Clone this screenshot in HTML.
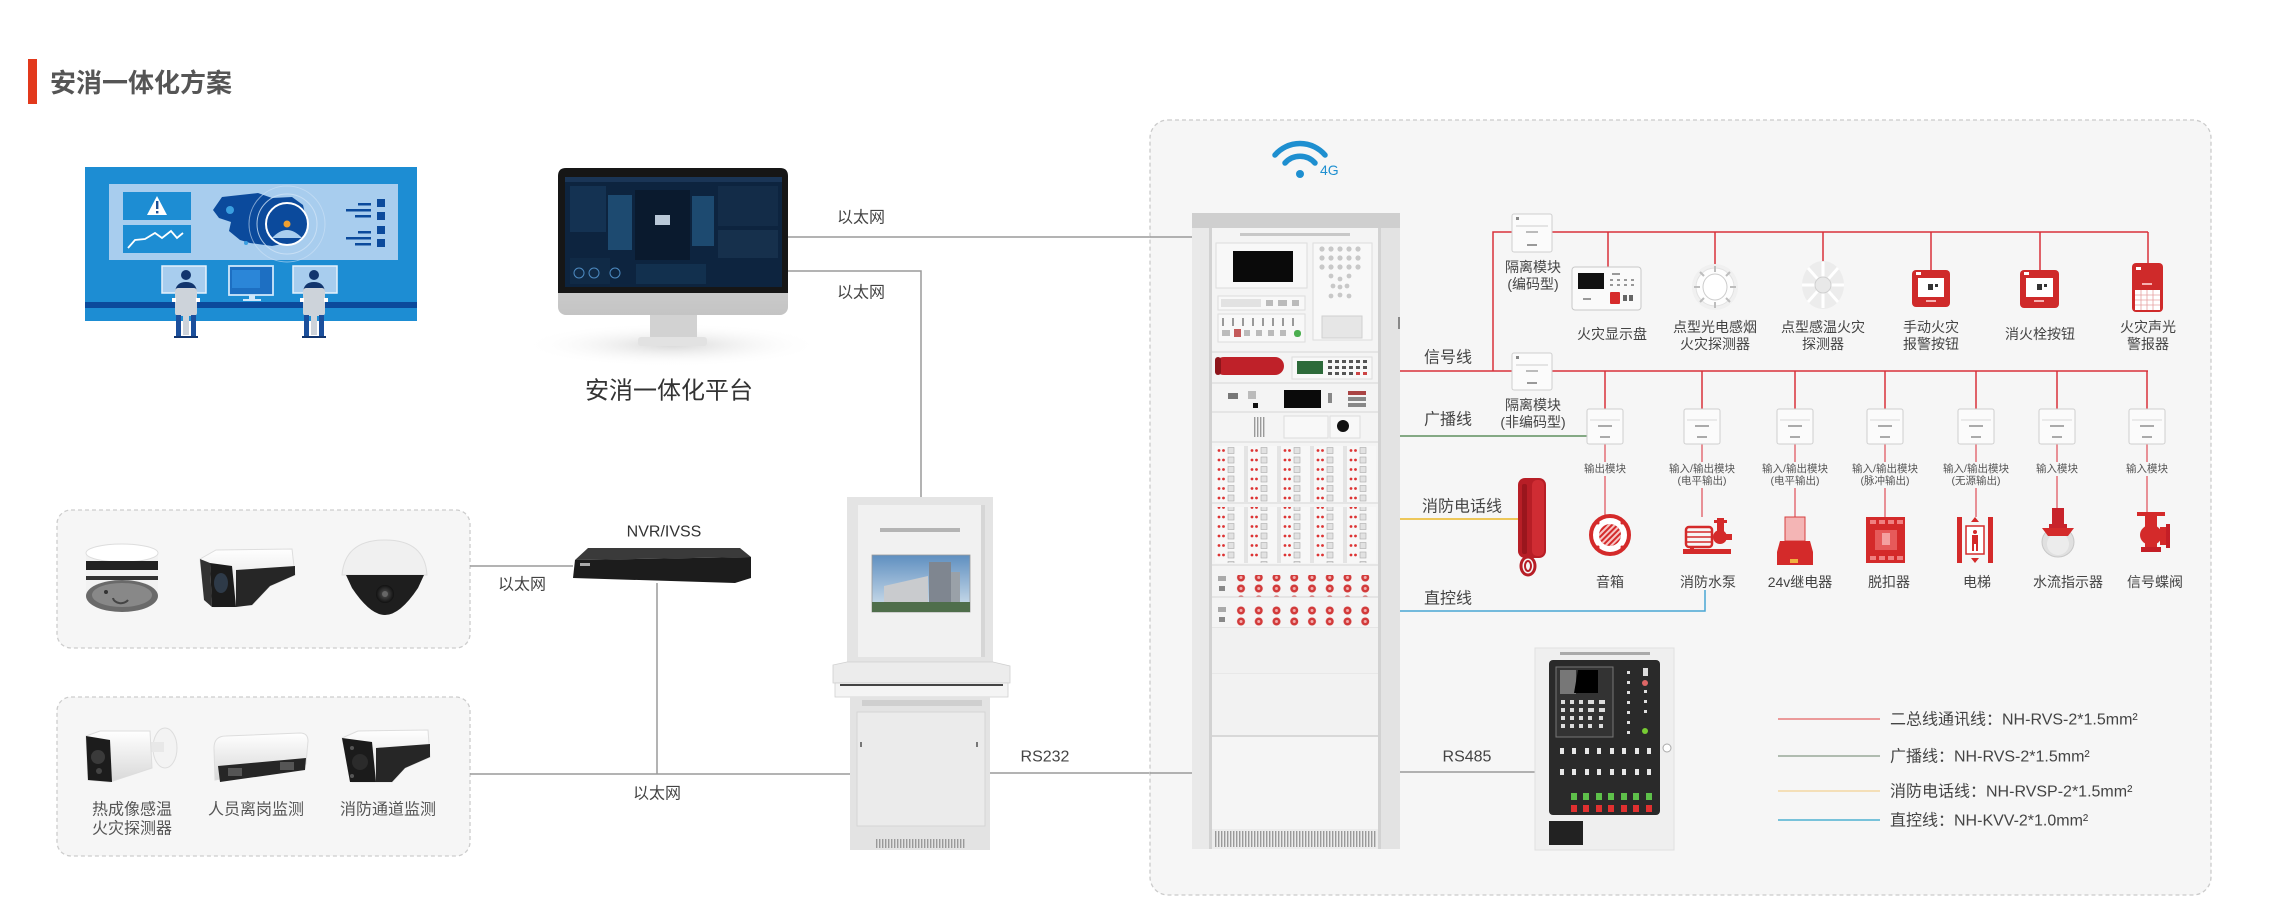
<!DOCTYPE html>
<html><head><meta charset="utf-8">
<style>
html,body{margin:0;padding:0;background:#fff;}
svg{display:block;}
text{font-family:"Liberation Sans","Noto Sans CJK SC",sans-serif;}
</style></head>
<body>
<svg width="2270" height="899" viewBox="0 0 2270 899" xmlns="http://www.w3.org/2000/svg">
<defs>
  <pattern id="mods" x="1215" y="446" width="33" height="9.5" patternUnits="userSpaceOnUse">
    <rect x="0" y="0" width="29" height="9.5" fill="#f7f7f7"/>
    <circle cx="4" cy="4.5" r="1.4" fill="#d33"/>
    <circle cx="8.5" cy="4.5" r="1.4" fill="#d33"/>
    <rect x="13" y="1.5" width="6" height="6" fill="#e2e2e2" stroke="#aaa" stroke-width="0.6"/>
    <rect x="29" y="0" width="4" height="9.5" fill="#e4e4e4"/>
  </pattern>
  <pattern id="rb" x="1232" y="0" width="17.75" height="11" patternUnits="userSpaceOnUse">
    <circle cx="9" cy="5.5" r="4" fill="#d23a3a"/>
    <circle cx="9" cy="5.5" r="1.5" fill="#f3b0b0"/>
  </pattern>
  <pattern id="grille" x="0" y="0" width="3" height="10" patternUnits="userSpaceOnUse">
    <rect x="0" y="0" width="1.4" height="10" fill="#9a9a9a"/>
  </pattern>
  <pattern id="stripe" x="0" y="0" width="4" height="4" patternUnits="userSpaceOnUse" patternTransform="rotate(45)">
    <rect x="0" y="0" width="2" height="4" fill="#f6c6c6"/>
  </pattern>
  <linearGradient id="sky" x1="0" y1="0" x2="0" y2="1">
    <stop offset="0" stop-color="#5f8fc0"/><stop offset="1" stop-color="#d5e3ee"/>
  </linearGradient>
  <linearGradient id="chin" x1="0" y1="0" x2="0" y2="1">
    <stop offset="0" stop-color="#e8e8e8"/><stop offset="1" stop-color="#c4c4c4"/>
  </linearGradient>
  <radialGradient id="shadow" cx="0.5" cy="0.5" r="0.5">
    <stop offset="0" stop-color="#d8d8d8"/><stop offset="1" stop-color="#ffffff" stop-opacity="0"/>
  </radialGradient>
  <linearGradient id="camw" x1="0" y1="0" x2="0" y2="1">
    <stop offset="0" stop-color="#ffffff"/><stop offset="1" stop-color="#d8d8d8"/>
  </linearGradient>
  <radialGradient id="lens" cx="0.5" cy="0.5" r="0.5">
    <stop offset="0" stop-color="#555"/><stop offset="1" stop-color="#111"/>
  </radialGradient>
</defs>

<!-- Title -->
<rect x="28" y="59" width="9" height="45" fill="#e2391c"/>
<text x="50" y="83" font-size="26" font-weight="bold" fill="#555" dominant-baseline="central">安消一体化方案</text>

<!-- Left illustration -->
<rect x="85" y="167" width="332" height="154" fill="#1d8dd3"/>
<rect x="109" y="184" width="289" height="76" fill="#a8cdee"/>
<rect x="123" y="192" width="68" height="28" fill="#1d8dd3"/>
<polygon points="157,196 167,215 147,215" fill="#fff"/>
<rect x="156" y="201" width="2.4" height="8" fill="#1d4f95"/>
<rect x="156" y="211" width="2.4" height="2.4" fill="#1d4f95"/>
<rect x="123" y="225" width="68" height="28" fill="#1d8dd3"/>
<polyline points="128,248 135,240 145,239 155,233 162,238 171,231 177,238 183,233" fill="none" stroke="#fff" stroke-width="1.8"/>
<polygon points="213,210 222,197 240,195 258,193 272,198 292,197 303,205 306,218 300,232 292,242 272,246 250,243 240,240 229,231 231,222 219,218" fill="#0b4a9c"/>
<circle cx="287" cy="224" r="38" fill="none" stroke="#cfe3f6" stroke-width="1" opacity="0.6"/>
<circle cx="287" cy="224" r="30" fill="none" stroke="#cfe3f6" stroke-width="1" opacity="0.8"/>
<circle cx="287" cy="224" r="21" fill="#0b4a9c" stroke="#fff" stroke-width="2"/>
<path d="M272,238 Q287,222 302,238" fill="#a8cdee"/>
<circle cx="287" cy="224" r="3.5" fill="#f0a030"/>
<circle cx="230" cy="210" r="4" fill="#3a9fe0"/>
<circle cx="246" cy="243" r="2" fill="#3a9fe0"/>
<rect x="358" y="203" width="13" height="2.5" fill="#0b4a9c"/>
<rect x="346" y="209" width="25" height="2.5" fill="#0b4a9c"/>
<rect x="355" y="215" width="16" height="2.5" fill="#0b4a9c"/>
<rect x="377" y="199" width="8" height="8" fill="#0b4a9c"/>
<rect x="377" y="212" width="8" height="8" fill="#0b4a9c"/>
<rect x="358" y="231" width="13" height="2.5" fill="#0b4a9c"/>
<rect x="346" y="237" width="25" height="2.5" fill="#0b4a9c"/>
<rect x="355" y="243" width="16" height="2.5" fill="#0b4a9c"/>
<rect x="377" y="226" width="8" height="8" fill="#0b4a9c"/>
<rect x="377" y="239" width="8" height="8" fill="#0b4a9c"/>
<rect x="85" y="302" width="332" height="6" fill="#0b4a9c"/>
<rect x="162" y="266" width="44" height="27" fill="#a8cdee" stroke="#e6f2fc" stroke-width="1.5"/>
<rect x="229" y="266" width="44" height="29" fill="#1d6fc2" stroke="#cfe7fb" stroke-width="1.8"/>
<rect x="232" y="270" width="28" height="18" fill="#2b86d8"/>
<rect x="249" y="295" width="6" height="4" fill="#cfe7fb"/>
<rect x="243" y="299" width="18" height="2" fill="#cfe7fb"/>
<rect x="293" y="266" width="44" height="27" fill="#a8cdee" stroke="#e6f2fc" stroke-width="1.5"/>
<!-- people -->
<g>
<circle cx="186" cy="275" r="5" fill="#12356e"/>
<path d="M175,292 Q176,282 186,282 Q196,282 197,292 Z" fill="#12356e"/>
<rect x="175" y="288" width="22" height="28" rx="3" fill="#cdd3da"/>
<rect x="172" y="298" width="4" height="4" fill="#fff"/>
<rect x="196" y="298" width="4" height="4" fill="#fff"/>
<rect x="176" y="315" width="5" height="22" fill="#1b4f9c"/>
<rect x="191" y="315" width="5" height="22" fill="#1b4f9c"/>
<rect x="183" y="315" width="6" height="20" fill="#cdd3da"/>
<rect x="174" y="336" width="24" height="2" fill="#12356e"/>
</g>
<g transform="translate(128,0)">
<circle cx="186" cy="275" r="5" fill="#12356e"/>
<path d="M175,292 Q176,282 186,282 Q196,282 197,292 Z" fill="#12356e"/>
<rect x="175" y="288" width="22" height="28" rx="3" fill="#cdd3da"/>
<rect x="172" y="298" width="4" height="4" fill="#fff"/>
<rect x="196" y="298" width="4" height="4" fill="#fff"/>
<rect x="176" y="315" width="5" height="22" fill="#1b4f9c"/>
<rect x="191" y="315" width="5" height="22" fill="#1b4f9c"/>
<rect x="183" y="315" width="6" height="20" fill="#cdd3da"/>
<rect x="174" y="336" width="24" height="2" fill="#12356e"/>
</g>

<!-- Monitor (platform) -->
<ellipse cx="672" cy="345" rx="150" ry="22" fill="url(#shadow)"/>
<rect x="558" y="168" width="230" height="147" rx="8" fill="url(#chin)"/>
<path d="M566,168 H780 Q788,168 788,176 V293 H558 V176 Q558,168 566,168 Z" fill="#161616"/>
<rect x="565" y="177" width="217" height="110" fill="#0d243f"/>
<rect x="565" y="177" width="217" height="5" fill="#1a3556"/>
<rect x="570" y="186" width="36" height="46" fill="#143252"/>
<rect x="608" y="195" width="24" height="55" fill="#1d4a70"/>
<rect x="635" y="190" width="55" height="70" fill="#0a1a2e"/>
<rect x="655" y="215" width="15" height="10" fill="#b9c8d8"/>
<rect x="692" y="196" width="22" height="50" fill="#1d4a70"/>
<rect x="718" y="186" width="60" height="40" fill="#132c48"/>
<rect x="718" y="230" width="60" height="28" fill="#16304c"/>
<rect x="570" y="258" width="40" height="26" fill="#102a46"/>
<circle cx="579" cy="273" r="5" fill="none" stroke="#4d8ac0"/>
<circle cx="594" cy="273" r="5" fill="none" stroke="#4d8ac0"/>
<circle cx="615" cy="273" r="5" fill="none" stroke="#4d8ac0"/>
<rect x="636" y="264" width="70" height="20" fill="#12304e"/>
<rect x="650" y="315" width="47" height="22" fill="#d2d2d2"/>
<rect x="638" y="337" width="69" height="9" rx="3" fill="#e2e2e2"/>
<text x="669" y="391" font-size="24" fill="#333" text-anchor="middle" dominant-baseline="central">安消一体化平台</text>

<!-- Ethernet lines from monitor -->
<line x1="788" y1="237" x2="1192" y2="237" stroke="#9a9a9a" stroke-width="1.5"/>
<polyline points="788,271 921,271 921,497" fill="none" stroke="#9a9a9a" stroke-width="1.5"/>
<text x="861" y="218" font-size="16" fill="#444" text-anchor="middle" dominant-baseline="central">以太网</text>
<text x="861" y="293" font-size="16" fill="#444" text-anchor="middle" dominant-baseline="central">以太网</text>

<!-- Camera boxes -->
<rect x="57" y="510" width="413" height="138" rx="14" fill="#f6f6f6" stroke="#cdcdcd" stroke-width="1.3" stroke-dasharray="4,3"/>
<rect x="57" y="697" width="413" height="159" rx="14" fill="#f6f6f6" stroke="#cdcdcd" stroke-width="1.3" stroke-dasharray="4,3"/>

<!-- camera 1: cylinder -->
<rect x="86" y="553" width="72" height="42" fill="#f2f2f2"/>
<ellipse cx="122" cy="553" rx="36" ry="9" fill="#fff" stroke="#ddd"/>
<rect x="86" y="561" width="72" height="9" fill="#222"/>
<rect x="86" y="576" width="72" height="4" fill="#333"/>
<ellipse cx="122" cy="596" rx="36" ry="16" fill="#6a6a6a"/>
<ellipse cx="122" cy="595" rx="30" ry="12" fill="#888"/>
<path d="M113,598 A8,6 0 0 0 128,600" fill="none" stroke="#444" stroke-width="2"/>
<circle cx="106" cy="592" r="2" fill="#333"/>
<!-- camera 2: bullet -->
<path d="M200,559 L216,550 L292,549 L295,575 L270,586 L252,605 L214,607 L204,592 Z" fill="url(#camw)" stroke="#ddd"/>
<path d="M200,559 L210,563 L212,607 L204,600 Z" fill="#333"/>
<path d="M210,563 L232,566 L236,607 L212,607 Z" fill="#1b1b1b"/>
<ellipse cx="221" cy="583" rx="7" ry="10" fill="#2e3a48"/>
<path d="M236,570 L295,566 L295,575 L270,586 L252,605 L236,607 Z" fill="#262626"/>
<!-- camera 3: dome -->
<path d="M342,575 Q345,540 385,540 Q425,540 427,575 Z" fill="#f0f0f0" stroke="#ddd"/>
<path d="M346,575 H424 L418,588 Q400,615 385,615 Q370,615 352,588 Z" fill="#1e1e1e"/>
<circle cx="385" cy="594" r="9" fill="url(#lens)"/>
<circle cx="385" cy="594" r="3" fill="#666"/>

<!-- box2 cameras -->
<!-- thermal bullet -->
<ellipse cx="165" cy="748" rx="12" ry="20" fill="#f3f3f3" stroke="#ddd"/>
<rect x="148" y="742" width="16" height="10" fill="#e8e8e8"/>
<path d="M86,736 L100,731 L150,731 L152,768 L110,782 L88,780 Z" fill="url(#camw)" stroke="#ddd"/>
<path d="M86,736 L110,740 L112,782 L88,780 Z" fill="#1c1c1c"/>
<circle cx="98" cy="757" r="7" fill="#3a3a3a"/>
<circle cx="99" cy="771" r="3" fill="#444"/>
<!-- people counting -->
<path d="M214,748 Q214,736 226,736 L300,733 Q308,733 308,741 L306,764 L215,780 Z" fill="url(#camw)" stroke="#ddd"/>
<path d="M218,766 L306,758 L305,770 L220,782 Z" fill="#262626"/>
<rect x="228" y="768" width="14" height="8" fill="#555"/>
<rect x="280" y="762" width="14" height="8" fill="#555"/>
<!-- bullet 2 -->
<path d="M342,738 L358,731 L428,730 L430,757 L405,768 L392,782 L352,782 Z" fill="url(#camw)" stroke="#ddd"/>
<path d="M342,738 L372,742 L376,782 L350,782 Z" fill="#1b1b1b"/>
<circle cx="360" cy="762" r="8" fill="#2b2b2b"/>
<circle cx="352" cy="748" r="2" fill="#555"/>
<circle cx="352" cy="776" r="2" fill="#555"/>
<path d="M376,748 L430,744 L430,757 L405,768 L392,782 L376,782 Z" fill="#262626"/>

<!-- camera labels -->
<text x="132" y="810" font-size="16" fill="#555" text-anchor="middle" dominant-baseline="central">热成像感温</text>
<text x="132" y="829" font-size="16" fill="#555" text-anchor="middle" dominant-baseline="central">火灾探测器</text>
<text x="256" y="810" font-size="16" fill="#555" text-anchor="middle" dominant-baseline="central">人员离岗监测</text>
<text x="388" y="810" font-size="16" fill="#555" text-anchor="middle" dominant-baseline="central">消防通道监测</text>

<!-- NVR -->
<text x="664" y="532" font-size="16" fill="#333" text-anchor="middle" dominant-baseline="central">NVR/IVSS</text>
<polygon points="588,548 740,548 751,557 575,560" fill="#3a3a3a"/>
<polygon points="575,560 751,557 751,578 735,583 573,578" fill="#1c1c1c"/>
<rect x="580" y="563" width="10" height="3" fill="#aaa"/>
<line x1="470" y1="566" x2="573" y2="566" stroke="#9a9a9a" stroke-width="1.5"/>
<text x="522" y="585" font-size="16" fill="#444" text-anchor="middle" dominant-baseline="central">以太网</text>
<line x1="657" y1="583" x2="657" y2="774" stroke="#9a9a9a" stroke-width="1.5"/>
<line x1="470" y1="774" x2="850" y2="774" stroke="#9a9a9a" stroke-width="1.5"/>
<text x="657" y="794" font-size="16" fill="#444" text-anchor="middle" dominant-baseline="central">以太网</text>

<!-- Kiosk -->
<rect x="847" y="497" width="146" height="166" fill="#e4e4e4"/>
<rect x="858" y="505" width="123" height="152" fill="#f1f1f1"/>
<rect x="981" y="505" width="4" height="152" fill="#d6d6d6"/>
<rect x="880" y="528" width="80" height="4" fill="#9a9a9a" opacity="0.7"/>
<rect x="872" y="555" width="98" height="57" fill="url(#sky)" stroke="#999" stroke-width="0.8"/>
<rect x="929" y="562" width="22" height="46" fill="#7f8690"/>
<rect x="951" y="572" width="9" height="36" fill="#9aa1a8"/>
<polygon points="884,586 928,576 928,608 884,608" fill="#c9cbce"/>
<rect x="872" y="602" width="98" height="10" fill="#4f6e4b"/>
<polygon points="833,665 847,662 993,662 1010,666 1010,683 833,683" fill="#ececec" stroke="#d0d0d0" stroke-width="0.8"/>
<rect x="835" y="683" width="173" height="14" fill="#f4f4f4" stroke="#d0d0d0" stroke-width="0.8"/>
<rect x="840" y="684" width="163" height="2" fill="#444"/>
<rect x="850" y="697" width="140" height="153" fill="#e3e3e3"/>
<rect x="857" y="712" width="128" height="114" fill="#ebebeb" stroke="#d5d5d5"/>
<rect x="862" y="700" width="120" height="6" fill="#cfcfcf"/>
<rect x="860" y="742" width="2" height="5" fill="#777"/>
<rect x="976" y="742" width="2" height="5" fill="#777"/>
<rect x="875" y="839" width="90" height="9" fill="url(#grille)"/>

<!-- RS232 -->
<line x1="990" y1="773" x2="1192" y2="773" stroke="#9a9a9a" stroke-width="1.5"/>
<text x="1045" y="757" font-size="16" fill="#444" text-anchor="middle" dominant-baseline="central">RS232</text>

<!-- Big dashed box -->
<rect x="1150" y="120" width="1061" height="775" rx="18" fill="#f6f6f6" stroke="#cbcbcb" stroke-width="1.3" stroke-dasharray="4,3"/>
<line x1="1150" y1="773" x2="1192" y2="773" stroke="#9a9a9a" stroke-width="1.5"/>
<line x1="1150" y1="237" x2="1192" y2="237" stroke="#9a9a9a" stroke-width="1.5"/>

<!-- wifi -->
<path d="M1275,155 A33,33 0 0 1 1325,155" fill="none" stroke="#1e8fd0" stroke-width="5.5" stroke-linecap="round"/>
<path d="M1285,163 A20,20 0 0 1 1315,163" fill="none" stroke="#1e8fd0" stroke-width="5.5" stroke-linecap="round"/>
<circle cx="1300" cy="174" r="4" fill="#1e8fd0"/>
<text x="1320" y="170" font-size="14" fill="#1e8fd0" dominant-baseline="central">4G</text>

<!-- Cabinet -->
<rect x="1192" y="213" width="208" height="636" fill="#e6e6e6"/>
<rect x="1192" y="213" width="208" height="15" fill="#cfcfcf"/>
<rect x="1192" y="228" width="20" height="621" fill="#e9e9e9"/>
<rect x="1378" y="228" width="22" height="621" fill="#e3e3e3"/>
<rect x="1209" y="228" width="3" height="621" fill="#d2d2d2"/>
<rect x="1378" y="228" width="3" height="621" fill="#d2d2d2"/>
<rect x="1398" y="317" width="2" height="12" fill="#888"/>
<rect x="1212" y="228" width="166" height="601" fill="#f4f4f4"/>
<rect x="1240" y="233" width="110" height="3" fill="#aaa" opacity="0.6"/>
<!-- section 1 -->
<rect x="1216" y="243" width="91" height="45" fill="#f8f8f8" stroke="#ddd"/>
<rect x="1233" y="251" width="60" height="31" fill="#0a0a0a"/>
<rect x="1218" y="296" width="87" height="14" fill="#f8f8f8" stroke="#ddd"/>
<rect x="1221" y="299" width="40" height="8" fill="#e2e2e2"/>
<rect x="1266" y="300" width="7" height="6" fill="#bbb"/>
<rect x="1278" y="300" width="9" height="6" fill="#bbb"/>
<rect x="1292" y="300" width="7" height="6" fill="#bbb"/>
<rect x="1218" y="314" width="87" height="28" fill="#f8f8f8" stroke="#ddd"/>
<g fill="#999"><rect x="1222" y="318" width="2" height="8"/><rect x="1232" y="318" width="2" height="8"/><rect x="1242" y="318" width="2" height="8"/><rect x="1252" y="318" width="2" height="8"/><rect x="1262" y="318" width="2" height="8"/><rect x="1272" y="318" width="2" height="8"/><rect x="1282" y="318" width="2" height="8"/><rect x="1292" y="318" width="2" height="8"/></g>
<g fill="#bbb"><rect x="1222" y="330" width="8" height="6"/><rect x="1244" y="330" width="6" height="6"/><rect x="1256" y="330" width="6" height="6"/><rect x="1268" y="330" width="6" height="6"/><rect x="1280" y="330" width="6" height="6"/></g>
<rect x="1234" y="329" width="7" height="8" fill="#c45a5a"/>
<rect x="1294" y="330" width="7" height="7" rx="3" fill="#4caf50"/>
<rect x="1313" y="243" width="59" height="97" fill="#f8f8f8" stroke="#ddd"/>
<g fill="#c8c8c8">
<circle cx="1322" cy="249" r="2.6"/><circle cx="1331" cy="249" r="2.6"/><circle cx="1340" cy="249" r="2.6"/><circle cx="1349" cy="249" r="2.6"/><circle cx="1358" cy="249" r="2.6"/>
<circle cx="1322" cy="258" r="2.6"/><circle cx="1331" cy="258" r="2.6"/><circle cx="1340" cy="258" r="2.6"/><circle cx="1349" cy="258" r="2.6"/><circle cx="1358" cy="258" r="2.6"/>
<circle cx="1322" cy="267" r="2.6"/><circle cx="1331" cy="267" r="2.6"/><circle cx="1340" cy="267" r="2.6"/><circle cx="1349" cy="267" r="2.6"/><circle cx="1358" cy="267" r="2.6"/>
<circle cx="1331" cy="276" r="2.4"/><circle cx="1340" cy="279" r="2.4"/><circle cx="1349" cy="276" r="2.4"/>
<circle cx="1333" cy="286" r="2.4"/><circle cx="1340" cy="287" r="2.4"/><circle cx="1347" cy="286" r="2.4"/>
<circle cx="1331" cy="296" r="2.4"/><circle cx="1340" cy="295" r="2.4"/><circle cx="1349" cy="296" r="2.4"/>
</g>
<rect x="1322" y="316" width="40" height="22" fill="#e6e6e6" stroke="#d0d0d0"/>
<line x1="1212" y1="352" x2="1378" y2="352" stroke="#d6d6d6"/>
<!-- section 2 -->
<rect x="1215" y="357" width="69" height="18" rx="9" fill="#bf2129"/>
<rect x="1215" y="357" width="6" height="18" rx="3" fill="#8e151b"/>
<rect x="1292" y="357" width="80" height="22" fill="#f8f8f8" stroke="#ddd"/>
<rect x="1297" y="361" width="26" height="13" fill="#2d6a3a"/>
<g fill="#555">
<rect x="1328" y="360" width="4" height="3"/><rect x="1335" y="360" width="4" height="3"/><rect x="1342" y="360" width="4" height="3"/><rect x="1349" y="360" width="4" height="3"/><rect x="1356" y="360" width="4" height="3"/><rect x="1363" y="360" width="4" height="3"/>
<rect x="1328" y="366" width="4" height="3"/><rect x="1335" y="366" width="4" height="3"/><rect x="1342" y="366" width="4" height="3"/><rect x="1349" y="366" width="4" height="3"/><rect x="1356" y="366" width="4" height="3"/><rect x="1363" y="366" width="4" height="3"/>
<rect x="1328" y="372" width="4" height="3"/><rect x="1335" y="372" width="4" height="3"/><rect x="1342" y="372" width="4" height="3"/><rect x="1349" y="372" width="4" height="3"/>
</g>
<rect x="1356" y="372" width="4" height="3" fill="#c44"/><rect x="1363" y="372" width="4" height="3" fill="#c44"/>
<line x1="1212" y1="383" x2="1378" y2="383" stroke="#d6d6d6"/>
<!-- section 3 -->
<rect x="1228" y="393" width="10" height="6" fill="#777"/>
<rect x="1248" y="391" width="8" height="8" fill="#bbb"/>
<rect x="1253" y="403" width="5" height="5" fill="#111"/>
<rect x="1284" y="390" width="37" height="18" fill="#0a0a0a"/>
<rect x="1328" y="393" width="4" height="10" fill="#888"/>
<rect x="1348" y="391" width="18" height="4" fill="#a44"/>
<rect x="1348" y="397" width="18" height="4" fill="#888"/>
<rect x="1348" y="403" width="18" height="4" fill="#888"/>
<line x1="1212" y1="412" x2="1378" y2="412" stroke="#d6d6d6"/>
<!-- section 4 -->
<rect x="1254" y="417" width="11" height="20" fill="url(#grille)"/>
<rect x="1284" y="416" width="44" height="22" fill="#f8f8f8" stroke="#ddd"/>
<rect x="1330" y="416" width="30" height="22" fill="#f8f8f8" stroke="#ddd"/>
<circle cx="1343" cy="426" r="6" fill="#111"/>
<line x1="1212" y1="442" x2="1378" y2="442" stroke="#d6d6d6"/>
<!-- sections 5,6 modules -->
<rect x="1215" y="446" width="161" height="56" fill="url(#mods)"/>
<line x1="1212" y1="503" x2="1378" y2="503" stroke="#d6d6d6"/>
<rect x="1215" y="507" width="161" height="56" fill="url(#mods)"/>
<line x1="1212" y1="565" x2="1378" y2="565" stroke="#d6d6d6"/>
<!-- sections 7,8 red buttons -->
<rect x="1232" y="575" width="142" height="22" fill="url(#rb)"/>
<rect x="1218" y="576" width="8" height="5" fill="#aaa"/>
<rect x="1219" y="586" width="6" height="5" fill="#888"/>
<line x1="1212" y1="597" x2="1378" y2="597" stroke="#d6d6d6"/>
<rect x="1232" y="606" width="142" height="22" fill="url(#rb)"/>
<rect x="1218" y="607" width="8" height="5" fill="#aaa"/>
<rect x="1219" y="617" width="6" height="5" fill="#888"/>
<line x1="1212" y1="628" x2="1378" y2="628" stroke="#d6d6d6"/>
<!-- empty panels -->
<rect x="1212" y="628" width="166" height="46" fill="#f1f1f1"/>
<line x1="1212" y1="674" x2="1378" y2="674" stroke="#e0e0e0"/>
<rect x="1212" y="674" width="166" height="62" fill="#f2f2f2"/>
<line x1="1212" y1="736" x2="1378" y2="736" stroke="#c8c8c8" stroke-width="1.3"/>
<rect x="1212" y="737" width="166" height="92" fill="#f5f5f5"/>
<rect x="1212" y="829" width="166" height="20" fill="#ececec"/>
<rect x="1214" y="831" width="162" height="16" fill="url(#grille)"/>

<!-- RS485 -->
<line x1="1400" y1="772" x2="1535" y2="772" stroke="#9a9a9a" stroke-width="1.5"/>
<text x="1467" y="757" font-size="16" fill="#444" text-anchor="middle" dominant-baseline="central">RS485</text>

<!-- Controller panel -->
<rect x="1535" y="648" width="139" height="202" fill="#efefef" stroke="#e0e0e0"/>
<rect x="1560" y="652" width="90" height="3" fill="#aaa"/>
<rect x="1549" y="660" width="111" height="155" rx="4" fill="#2a2a2a"/>
<rect x="1556" y="667" width="57" height="70" fill="#333" stroke="#777"/>
<rect x="1560" y="670" width="16" height="24" fill="#777"/>
<polygon points="1578,670 1598,670 1598,693 1574,693" fill="#000"/>
<g fill="#ddd">
<rect x="1561" y="700" width="4" height="4"/><rect x="1570" y="700" width="4" height="4"/><rect x="1579" y="700" width="4" height="4"/><rect x="1588" y="700" width="6" height="4"/><rect x="1599" y="700" width="6" height="4"/>
<rect x="1561" y="708" width="4" height="4"/><rect x="1570" y="708" width="4" height="4"/><rect x="1579" y="708" width="4" height="4"/><rect x="1588" y="708" width="6" height="4"/><rect x="1599" y="708" width="6" height="4"/>
<rect x="1561" y="716" width="4" height="4"/><rect x="1570" y="716" width="4" height="4"/><rect x="1579" y="716" width="4" height="4"/><rect x="1588" y="716" width="4" height="4"/><rect x="1599" y="716" width="4" height="4"/>
<rect x="1561" y="724" width="4" height="4"/><rect x="1570" y="724" width="4" height="4"/><rect x="1579" y="724" width="4" height="4"/><rect x="1588" y="724" width="4" height="4"/><rect x="1599" y="724" width="4" height="4"/>
<rect x="1627" y="671" width="3" height="3"/><rect x="1627" y="681" width="3" height="3"/><rect x="1627" y="691" width="3" height="3"/><rect x="1627" y="701" width="3" height="3"/><rect x="1627" y="711" width="3" height="3"/><rect x="1627" y="721" width="3" height="3"/><rect x="1627" y="731" width="3" height="3"/>
<rect x="1643" y="668" width="5" height="8"/><rect x="1644" y="690" width="3" height="3"/><rect x="1644" y="700" width="3" height="3"/><rect x="1644" y="710" width="3" height="3"/>
</g>
<circle cx="1645" cy="683" r="3" fill="#d66"/>
<circle cx="1645" cy="731" r="3" fill="#7c3"/>
<g fill="#e8e8e8">
<rect x="1560" y="748" width="4" height="6"/><rect x="1572" y="748" width="4" height="6"/><rect x="1585" y="748" width="4" height="6"/><rect x="1597" y="748" width="4" height="6"/><rect x="1610" y="748" width="4" height="6"/><rect x="1622" y="748" width="4" height="6"/><rect x="1635" y="748" width="4" height="6"/><rect x="1647" y="748" width="4" height="6"/>
<rect x="1560" y="769" width="4" height="6"/><rect x="1572" y="769" width="4" height="6"/><rect x="1585" y="769" width="4" height="6"/><rect x="1597" y="769" width="4" height="6"/><rect x="1610" y="769" width="4" height="6"/><rect x="1622" y="769" width="4" height="6"/><rect x="1635" y="769" width="4" height="6"/><rect x="1647" y="769" width="4" height="6"/>
</g>
<g fill="#5ec04a">
<rect x="1571" y="793" width="6" height="7"/><rect x="1583" y="793" width="6" height="7"/><rect x="1596" y="793" width="6" height="7"/><rect x="1608" y="793" width="6" height="7"/><rect x="1621" y="793" width="6" height="7"/><rect x="1633" y="793" width="6" height="7"/><rect x="1646" y="793" width="6" height="7"/>
</g>
<g fill="#e03030">
<rect x="1571" y="805" width="6" height="7"/><rect x="1583" y="805" width="6" height="7"/><rect x="1596" y="805" width="6" height="7"/><rect x="1608" y="805" width="6" height="7"/><rect x="1621" y="805" width="6" height="7"/><rect x="1633" y="805" width="6" height="7"/><rect x="1646" y="805" width="6" height="7"/>
</g>
<circle cx="1667" cy="748" r="4" fill="#fff" stroke="#aaa"/>
<rect x="1549" y="821" width="34" height="24" fill="#222"/>

<!-- Legend -->
<line x1="1778" y1="719" x2="1880" y2="719" stroke="#e77c7c" stroke-width="1.6"/>
<line x1="1778" y1="756" x2="1880" y2="756" stroke="#98a898" stroke-width="1.6"/>
<line x1="1778" y1="791" x2="1880" y2="791" stroke="#f3d7a4" stroke-width="1.6"/>
<line x1="1778" y1="820" x2="1880" y2="820" stroke="#4fb0d0" stroke-width="1.6"/>
<text x="1890" y="720" font-size="16" fill="#444" dominant-baseline="central">二总线通讯线：NH-RVS-2*1.5mm²</text>
<text x="1890" y="757" font-size="16" fill="#444" dominant-baseline="central">广播线：NH-RVS-2*1.5mm²</text>
<text x="1890" y="792" font-size="16" fill="#444" dominant-baseline="central">消防电话线：NH-RVSP-2*1.5mm²</text>
<text x="1890" y="821" font-size="16" fill="#444" dominant-baseline="central">直控线：NH-KVV-2*1.0mm²</text>

<!-- Bus lines -->
<g stroke="#d8313a" stroke-width="1.5" fill="none">
<polyline points="1493,371 1493,232 2148,232"/>
<line x1="1400" y1="371" x2="2148" y2="371"/>
<line x1="1608" y1="232" x2="1608" y2="267"/>
<line x1="1715" y1="232" x2="1715" y2="266"/>
<line x1="1823" y1="232" x2="1823" y2="262"/>
<line x1="1931" y1="232" x2="1931" y2="270"/>
<line x1="2040" y1="232" x2="2040" y2="270"/>
<line x1="2148" y1="232" x2="2148" y2="263"/>
<line x1="1605" y1="371" x2="1605" y2="409"/>
<line x1="1702" y1="371" x2="1702" y2="409"/>
<line x1="1795" y1="371" x2="1795" y2="409"/>
<line x1="1885" y1="371" x2="1885" y2="409"/>
<line x1="1976" y1="371" x2="1976" y2="409"/>
<line x1="2057" y1="371" x2="2057" y2="409"/>
<line x1="2147" y1="371" x2="2147" y2="409"/>
</g>
<g stroke="#e25a62" stroke-width="1.3" fill="none">
<line x1="1605" y1="444" x2="1605" y2="462"/><line x1="1605" y1="476" x2="1605" y2="515"/>
<line x1="1702" y1="444" x2="1702" y2="462"/><line x1="1702" y1="488" x2="1702" y2="517"/>
<line x1="1795" y1="444" x2="1795" y2="462"/><line x1="1795" y1="488" x2="1795" y2="517"/>
<line x1="1885" y1="444" x2="1885" y2="462"/><line x1="1885" y1="488" x2="1885" y2="517"/>
<line x1="1976" y1="444" x2="1976" y2="462"/><line x1="1976" y1="488" x2="1976" y2="517"/>
<line x1="2057" y1="444" x2="2057" y2="462"/><line x1="2057" y1="476" x2="2057" y2="510"/>
<line x1="2147" y1="444" x2="2147" y2="462"/><line x1="2147" y1="476" x2="2147" y2="512"/>
</g>
<line x1="1400" y1="436" x2="1587" y2="436" stroke="#5f8f5f" stroke-width="1.5"/>
<line x1="1400" y1="519" x2="1518" y2="519" stroke="#edc75a" stroke-width="2"/>
<polyline points="1400,611 1705,611 1705,590" fill="none" stroke="#49a6d4" stroke-width="1.5"/>

<text x="1424" y="358" font-size="16" fill="#444" dominant-baseline="central">信号线</text>
<text x="1424" y="420" font-size="16" fill="#444" dominant-baseline="central">广播线</text>
<text x="1422" y="507" font-size="16" fill="#444" dominant-baseline="central">消防电话线</text>
<text x="1424" y="599" font-size="16" fill="#444" dominant-baseline="central">直控线</text>

<!-- Isolation modules -->
<g>
<rect x="1512" y="214" width="40" height="38" rx="2" fill="#fbfbfb" stroke="#cfcfcf"/>
<line x1="1516" y1="226" x2="1548" y2="226" stroke="#ccc"/>
<rect x="1516" y="217" width="3" height="3" fill="#888"/>
<rect x="1526" y="231" width="12" height="2" fill="#bbb"/>
<rect x="1527" y="244" width="10" height="2" fill="#999"/>
</g>
<g>
<rect x="1512" y="353" width="40" height="37" rx="2" fill="#fbfbfb" stroke="#cfcfcf"/>
<line x1="1516" y1="365" x2="1548" y2="365" stroke="#ccc"/>
<rect x="1516" y="356" width="3" height="3" fill="#888"/>
<rect x="1526" y="370" width="12" height="2" fill="#bbb"/>
<rect x="1527" y="382" width="10" height="2" fill="#999"/>
</g>
<g font-size="14" fill="#444" text-anchor="middle" dominant-baseline="central">
<text x="1533" y="267">隔离模块</text>
<text x="1533" y="284">(编码型)</text>
<text x="1533" y="405">隔离模块</text>
<text x="1533" y="422">(非编码型)</text>
</g>

<!-- Top devices -->
<rect x="1572" y="267" width="69" height="43" rx="3" fill="#fafafa" stroke="#c8c8c8"/>
<rect x="1578" y="273" width="26" height="16" fill="#111"/>
<g fill="#999"><rect x="1612" y="273" width="8" height="2"/><rect x="1610" y="279" width="3" height="2"/><rect x="1617" y="279" width="3" height="2"/><rect x="1624" y="279" width="3" height="2"/><rect x="1631" y="279" width="3" height="2"/><rect x="1610" y="284" width="3" height="2"/><rect x="1617" y="284" width="3" height="2"/><rect x="1624" y="284" width="3" height="2"/><rect x="1631" y="284" width="3" height="2"/><rect x="1583" y="298" width="8" height="2"/></g>
<rect x="1610" y="292" width="10" height="12" rx="1" fill="#d62b2b"/>
<rect x="1623" y="295" width="4" height="6" fill="#666"/><rect x="1629" y="295" width="4" height="6" fill="#666"/>

<circle cx="1715" cy="287" r="23" fill="#f0f0f0"/>
<circle cx="1715" cy="287" r="19" fill="#fdfdfd" stroke="#e2e2e2"/>
<g stroke="#bdbdbd" stroke-width="2"><line x1="1715" y1="266" x2="1715" y2="272"/><line x1="1715" y1="302" x2="1715" y2="308"/><line x1="1694" y1="287" x2="1700" y2="287"/><line x1="1730" y1="287" x2="1736" y2="287"/><line x1="1700" y1="272" x2="1704" y2="276"/><line x1="1730" y1="272" x2="1726" y2="276"/><line x1="1700" y1="302" x2="1704" y2="298"/><line x1="1730" y1="302" x2="1726" y2="298"/></g>
<ellipse cx="1715" cy="287" rx="12" ry="13" fill="#fff" stroke="#ccc"/>

<ellipse cx="1823" cy="285" rx="21" ry="24" fill="#ececec"/>
<g stroke="#fff" stroke-width="3"><line x1="1823" y1="262" x2="1823" y2="308"/><line x1="1802" y1="285" x2="1844" y2="285"/><line x1="1808" y1="268" x2="1838" y2="302"/><line x1="1838" y1="268" x2="1808" y2="302"/></g>
<circle cx="1823" cy="285" r="8" fill="#e8e8e8" stroke="#d0d0d0"/>

<rect x="1912" y="270" width="38" height="37" rx="4" fill="#cf2a2a"/>
<rect x="1918" y="278" width="26" height="19" fill="#fff"/>
<rect x="1928" y="284" width="5" height="6" fill="#333"/><rect x="1935" y="284" width="3" height="3" fill="#333"/>
<rect x="1916" y="272" width="5" height="3" fill="#fff"/>
<rect x="1926" y="300" width="10" height="2" fill="#f6b0b0"/>

<rect x="2020" y="270" width="39" height="38" rx="4" fill="#cf2a2a"/>
<rect x="2026" y="278" width="27" height="19" fill="#fff"/>
<rect x="2037" y="284" width="5" height="6" fill="#333"/><rect x="2044" y="284" width="3" height="3" fill="#333"/>
<rect x="2024" y="272" width="5" height="3" fill="#fff"/>
<rect x="2034" y="300" width="10" height="2" fill="#f6b0b0"/>

<rect x="2132" y="263" width="31" height="49" rx="4" fill="#cf2a2a"/>
<rect x="2135" y="290" width="25" height="20" fill="#fff"/>
<g stroke="#e6a0a0" stroke-width="0.8"><line x1="2135" y1="295" x2="2160" y2="295"/><line x1="2135" y1="300" x2="2160" y2="300"/><line x1="2135" y1="305" x2="2160" y2="305"/><line x1="2141" y1="290" x2="2141" y2="310"/><line x1="2147" y1="290" x2="2147" y2="310"/><line x1="2153" y1="290" x2="2153" y2="310"/></g>
<rect x="2136" y="267" width="5" height="3" fill="#fff"/>
<rect x="2142" y="283" width="10" height="2" fill="#f6b0b0"/>

<g font-size="14" fill="#444" text-anchor="middle" dominant-baseline="central">
<text x="1612" y="334">火灾显示盘</text>
<text x="1715" y="327">点型光电感烟</text>
<text x="1715" y="344">火灾探测器</text>
<text x="1823" y="327">点型感温火灾</text>
<text x="1823" y="344">探测器</text>
<text x="1931" y="327">手动火灾</text>
<text x="1931" y="344">报警按钮</text>
<text x="2040" y="334">消火栓按钮</text>
<text x="2148" y="327">火灾声光</text>
<text x="2148" y="344">警报器</text>
</g>

<!-- IO modules -->
<g fill="#fbfbfb" stroke="#cfcfcf">
<rect x="1587" y="409" width="36" height="35" rx="2"/>
<rect x="1684" y="409" width="36" height="35" rx="2"/>
<rect x="1777" y="409" width="36" height="35" rx="2"/>
<rect x="1867" y="409" width="36" height="35" rx="2"/>
<rect x="1958" y="409" width="36" height="35" rx="2"/>
<rect x="2039" y="409" width="36" height="35" rx="2"/>
<rect x="2129" y="409" width="36" height="35" rx="2"/>
</g>
<g stroke="#d8d8d8">
<line x1="1590" y1="420" x2="1620" y2="420"/><line x1="1687" y1="420" x2="1717" y2="420"/><line x1="1780" y1="420" x2="1810" y2="420"/><line x1="1870" y1="420" x2="1900" y2="420"/><line x1="1961" y1="420" x2="1991" y2="420"/><line x1="2042" y1="420" x2="2072" y2="420"/><line x1="2132" y1="420" x2="2162" y2="420"/>
</g>
<g fill="#aaa">
<rect x="1600" y="436" width="10" height="2"/><rect x="1697" y="436" width="10" height="2"/><rect x="1790" y="436" width="10" height="2"/><rect x="1880" y="436" width="10" height="2"/><rect x="1971" y="436" width="10" height="2"/><rect x="2052" y="436" width="10" height="2"/><rect x="2142" y="436" width="10" height="2"/>
<rect x="1598" y="425" width="14" height="2"/><rect x="1695" y="425" width="14" height="2"/><rect x="1788" y="425" width="14" height="2"/><rect x="1878" y="425" width="14" height="2"/><rect x="1969" y="425" width="14" height="2"/><rect x="2050" y="425" width="14" height="2"/><rect x="2140" y="425" width="14" height="2"/>
</g>
<g font-size="10.5" fill="#555" text-anchor="middle" dominant-baseline="central">
<text x="1605" y="469">输出模块</text>
<text x="1702" y="469">输入/输出模块</text><text x="1702" y="481">(电平输出)</text>
<text x="1795" y="469">输入/输出模块</text><text x="1795" y="481">(电平输出)</text>
<text x="1885" y="469">输入/输出模块</text><text x="1885" y="481">(脉冲输出)</text>
<text x="1976" y="469">输入/输出模块</text><text x="1976" y="481">(无源输出)</text>
<text x="2057" y="469">输入模块</text>
<text x="2147" y="469">输入模块</text>
</g>

<!-- phone -->
<rect x="1518" y="478" width="28" height="80" rx="7" fill="#b71e26"/>
<rect x="1532" y="480" width="12" height="76" rx="5" fill="#cf2c33"/>
<rect x="1522" y="484" width="5" height="70" rx="2" fill="#9a161d"/>
<ellipse cx="1528" cy="566" rx="7" ry="9" fill="none" stroke="#b71e26" stroke-width="3"/>
<ellipse cx="1528" cy="566" rx="3" ry="5" fill="none" stroke="#b71e26" stroke-width="2"/>

<!-- bottom devices -->
<circle cx="1610" cy="535" r="19" fill="#fff" stroke="#d42a2a" stroke-width="4"/>
<circle cx="1610" cy="535" r="11" fill="#d42a2a"/>
<circle cx="1610" cy="535" r="11" fill="url(#stripe)"/>
<circle cx="1598" cy="523" r="1.5" fill="#d42a2a"/><circle cx="1622" cy="523" r="1.5" fill="#d42a2a"/><circle cx="1598" cy="547" r="1.5" fill="#d42a2a"/><circle cx="1622" cy="547" r="1.5" fill="#d42a2a"/>

<rect x="1683" y="549" width="48" height="5" fill="#d42a2a"/>
<rect x="1686" y="527" width="26" height="20" rx="3" fill="none" stroke="#d42a2a" stroke-width="2.5"/>
<g stroke="#d42a2a" stroke-width="1.5"><line x1="1686" y1="532" x2="1712" y2="532"/><line x1="1686" y1="537" x2="1712" y2="537"/><line x1="1686" y1="542" x2="1712" y2="542"/></g>
<circle cx="1720" cy="537" r="7" fill="#d42a2a"/>
<rect x="1717" y="518" width="7" height="14" fill="#d42a2a"/>
<rect x="1714" y="520" width="13" height="3" fill="#d42a2a"/>
<rect x="1726" y="534" width="6" height="6" fill="#d42a2a"/>
<rect x="1690" y="547" width="4" height="3" fill="#d42a2a"/>

<rect x="1785" y="517" width="20" height="24" fill="#f4b5b5" stroke="#d64040"/>
<polygon points="1780,541 1810,541 1813,552 1813,565 1777,565 1777,552" fill="#d42a2a"/>
<rect x="1790" y="559" width="8" height="4" fill="#f0b040"/>

<rect x="1866" y="517" width="39" height="46" fill="#d42a2a"/>
<g fill="#f08080"><rect x="1870" y="520" width="6" height="4"/><rect x="1879" y="520" width="6" height="4"/><rect x="1888" y="520" width="6" height="4"/><rect x="1897" y="520" width="6" height="4"/><rect x="1870" y="556" width="6" height="4"/><rect x="1879" y="556" width="6" height="4"/><rect x="1888" y="556" width="6" height="4"/><rect x="1897" y="556" width="6" height="4"/></g>
<rect x="1875" y="530" width="22" height="20" fill="#e65a5a"/>
<rect x="1882" y="533" width="8" height="12" fill="#f4a0a0"/>

<rect x="1957" y="517" width="5" height="46" fill="#d42a2a"/>
<rect x="1988" y="517" width="5" height="46" fill="#d42a2a"/>
<rect x="1966" y="526" width="18" height="28" fill="#fff" stroke="#d42a2a" stroke-width="1.5"/>
<circle cx="1975" cy="532" r="2" fill="#d42a2a"/>
<rect x="1972" y="535" width="6" height="9" fill="#d42a2a"/>
<rect x="1972" y="544" width="2" height="7" fill="#d42a2a"/><rect x="1976" y="544" width="2" height="7" fill="#d42a2a"/>
<polygon points="1975,517 1971,522 1979,522" fill="#d42a2a"/>
<polygon points="1975,563 1971,558 1979,558" fill="#d42a2a"/>

<ellipse cx="2058" cy="542" rx="16" ry="15" fill="#e0e0e0" stroke="#c8c8c8"/>
<ellipse cx="2058" cy="544" rx="11" ry="11" fill="#ececec"/>
<rect x="2052" y="508" width="12" height="22" fill="#c8232b"/>
<rect x="2049" y="524" width="18" height="4" fill="#c8232b"/>
<polygon points="2042,528 2074,528 2068,536 2048,536" fill="#d42a2a"/>

<rect x="2145" y="512" width="12" height="40" fill="#d42a2a"/>
<rect x="2137" y="512" width="28" height="4" fill="#d42a2a"/>
<ellipse cx="2151" cy="535" rx="11" ry="10" fill="#d42a2a"/>
<rect x="2160" y="527" width="9" height="18" fill="#d42a2a"/>
<rect x="2166" y="524" width="4" height="24" fill="#c41e26"/>
<rect x="2141" y="547" width="20" height="5" fill="#c41e26"/>

<g font-size="14" fill="#444" text-anchor="middle" dominant-baseline="central">
<text x="1610" y="582">音箱</text>
<text x="1708" y="582">消防水泵</text>
<text x="1800" y="582">24v继电器</text>
<text x="1889" y="582">脱扣器</text>
<text x="1977" y="582">电梯</text>
<text x="2068" y="582">水流指示器</text>
<text x="2155" y="582">信号蝶阀</text>
</g>
</svg>
</body></html>
